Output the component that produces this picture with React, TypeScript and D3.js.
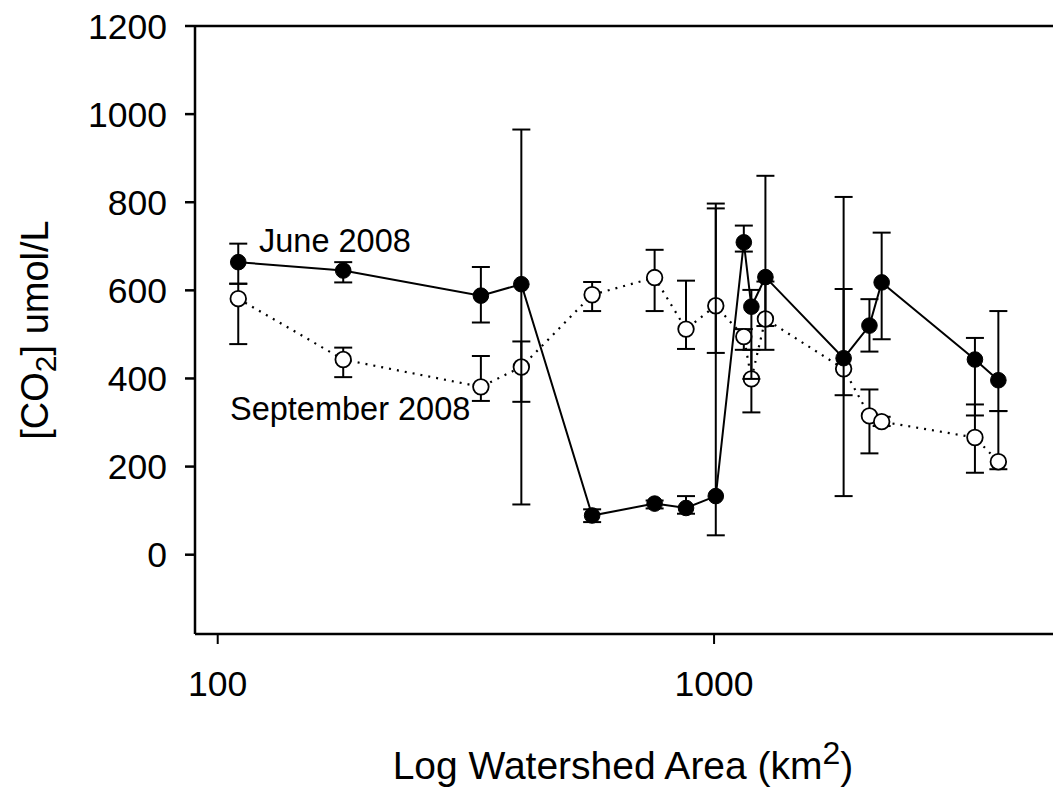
import React from "react";
import * as d3 from "d3";

// Watershed areas (km²) of the sampled sites
const areas = [110, 179, 339, 409, 568, 759, 878, 1008, 1148, 1189, 1269, 1824, 2056, 2176, 3354, 3739];

// June 2008 CO2 (umol/L) with error-bar bounds
const june = [664, 645, 588, 614, 89, 116, 106, 133, 709, 563, 630, 446, 520, 618, 443, 396];
const juneLow = [615, 618, 527, 114, 74, 105, 93, 44, 688, 399, 465, 133, 461, 489, 316, 326];
const juneHigh = [706, 664, 653, 965, 103, 123, 133, 797, 747, 601, 860, 812, 580, 731, 492, 553];

// September 2008 CO2 (umol/L) with error-bar bounds
const sept = [581, 443, 381, 426, 590, 629, 512, 565, 495, 399, 535, 422, 315, 302, 266, 211];
const septLow = [478, 403, 349, 347, 553, 553, 467, 458, 465, 323, 519, 362, 230, 292, 186, 194];
const septHigh = [615, 470, 451, 484, 619, 692, 622, 786, 512, 465, 620, 603, 375, 313, 341, 326];

const yTicks = [0, 200, 400, 600, 800, 1000, 1200];
const xTicks = [100, 1000];

const FONT = "'Liberation Sans', Arial, Helvetica, sans-serif";

export default function App() {
  const left = 195;
  const top = 26;
  const bottom = 634;

  const x = d3.scaleLog().domain([90, 5000]).range([left, 1061]);
  const y = d3.scaleLinear().domain([-180, 1200]).range([bottom, top]);

  const lineGen = d3
    .line<number>()
    .x((_, i) => x(areas[i]))
    .y((d) => y(d));

  const cap = 9;
  const r = 7.8;

  const errorBars = (lo: number[], hi: number[], key: string) =>
    areas.map((a, i) => {
      const cx = x(a);
      return (
        <g key={key + i} stroke="#000" strokeWidth={2}>
          <line x1={cx} x2={cx} y1={y(lo[i])} y2={y(hi[i])} />
          <line x1={cx - cap} x2={cx + cap} y1={y(lo[i])} y2={y(lo[i])} />
          <line x1={cx - cap} x2={cx + cap} y1={y(hi[i])} y2={y(hi[i])} />
        </g>
      );
    });

  return (
    <svg
      width={1053}
      height={787}
      style={{ position: "absolute", left: 0, top: 0, background: "#fff" }}
      fontFamily={FONT}
    >
      {/* frame: left axis, bottom axis, top border */}
      <g stroke="#000" strokeWidth={2.5} fill="none">
        <line x1={left} x2={left} y1={top} y2={bottom} />
        <line x1={left} x2={1053} y1={bottom} y2={bottom} />
        <line x1={left} x2={1053} y1={top} y2={top} />
      </g>

      {/* y axis ticks and labels */}
      {yTicks.map((t) => (
        <g key={"y" + t}>
          <line x1={left - 10} x2={left} y1={y(t)} y2={y(t)} stroke="#000" strokeWidth={2.5} />
          <text x={167} y={y(t)} dy="0.36em" textAnchor="end" fontSize={35.5}>
            {t}
          </text>
        </g>
      ))}

      {/* x axis ticks and labels */}
      {xTicks.map((t) => (
        <g key={"x" + t}>
          <line x1={x(t)} x2={x(t)} y1={bottom} y2={bottom + 10} stroke="#000" strokeWidth={2} />
          <text x={x(t)} y={696} textAnchor="middle" fontSize={35.5}>
            {t}
          </text>
        </g>
      ))}

      {/* axis titles */}
      <text x={623} y={779} textAnchor="middle" fontSize={39}>
        Log Watershed Area (km
        <tspan fontSize={32} dy={-15}>2</tspan>
        <tspan dy={15}>)</tspan>
      </text>
      <text transform="translate(48,330) rotate(-90)" textAnchor="middle" fontSize={38}>
        [CO
        <tspan fontSize={30} dy={8}>2</tspan>
        <tspan dy={-8}>] umol/L</tspan>
      </text>

      {/* September series */}
      {errorBars(septLow, septHigh, "se")}
      <path
        d={lineGen(sept) || ""}
        fill="none"
        stroke="#000"
        strokeWidth={2.2}
        strokeDasharray="2 6"
      />
      {areas.map((a, i) => (
        <circle key={"sc" + i} cx={x(a)} cy={y(sept[i])} r={r} fill="#fff" stroke="#000" strokeWidth={1.8} />
      ))}

      {/* June series */}
      {errorBars(juneLow, juneHigh, "je")}
      <path d={lineGen(june) || ""} fill="none" stroke="#000" strokeWidth={2} />
      {areas.map((a, i) => (
        <circle key={"jc" + i} cx={x(a)} cy={y(june[i])} r={r} fill="#000" stroke="#000" strokeWidth={1} />
      ))}

      {/* series labels */}
      <text x={259} y={252} fontSize={32.5}>
        June 2008
      </text>
      <text x={230} y={420} fontSize={32.5}>
        September 2008
      </text>
    </svg>
  );
}
